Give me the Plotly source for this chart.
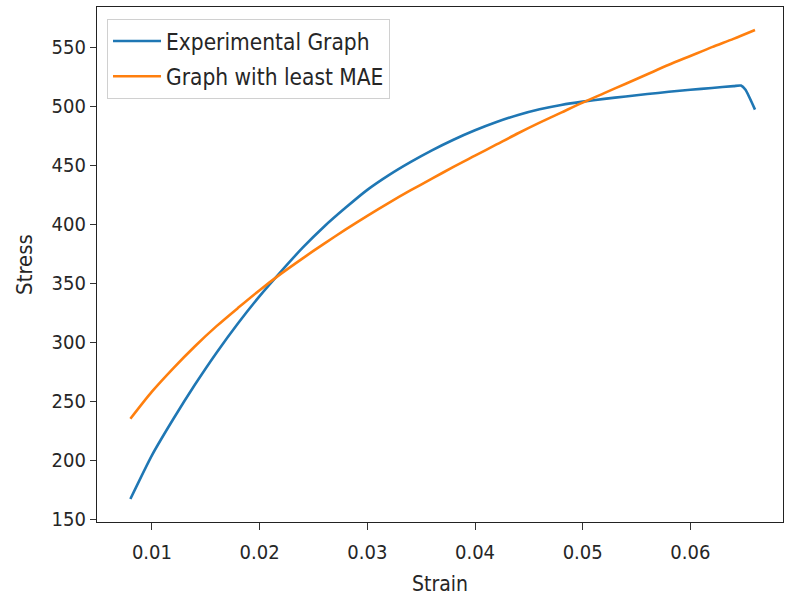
import plotly.graph_objects as go

# Experimental curve
strain_exp = [0.008, 0.010, 0.012, 0.014, 0.016, 0.018, 0.020, 0.022, 0.024, 0.026,
              0.028, 0.030, 0.032, 0.034, 0.036, 0.038, 0.040, 0.042, 0.044, 0.046,
              0.048, 0.050, 0.052, 0.054, 0.056, 0.058, 0.060, 0.062, 0.064, 0.0647,
              0.0651, 0.066]
stress_exp = [167, 204, 235, 264, 291, 316, 339, 360, 380, 398,
              414, 429, 441.5, 452.5, 462.5, 471.5, 479.5, 486.5, 492.5, 497.3,
              501, 503.8, 506.1, 508.2, 510.2, 512.1, 513.8, 515.4, 516.9, 517.4,
              514, 497]

# Fitted curve with least MAE
strain_fit = [0.008, 0.010, 0.012, 0.014, 0.016, 0.018, 0.020, 0.022, 0.024, 0.026,
              0.028, 0.030, 0.032, 0.034, 0.036, 0.038, 0.040, 0.042, 0.044, 0.046,
              0.048, 0.050, 0.052, 0.054, 0.056, 0.058, 0.060, 0.062, 0.064, 0.066]
stress_fit = [235, 258, 278, 296.5, 313.5, 329, 344, 358, 371, 383.5,
              395.5, 407, 418, 428.5, 438.5, 448.5, 458, 467.5, 477, 486,
              494.5, 503, 511, 519, 527, 535, 542.5, 550, 557, 564.5]

x_ticks = [0.01, 0.02, 0.03, 0.04, 0.05, 0.06]
x_tick_labels = ["0.01", "0.02", "0.03", "0.04", "0.05", "0.06"]
y_ticks = [150, 200, 250, 300, 350, 400, 450, 500, 550]
y_tick_labels = ["150", "200", "250", "300", "350", "400", "450", "500", "550"]

FONT = "DejaVu Sans Condensed, Liberation Sans Narrow, DejaVu Sans, sans-serif"

fig = go.Figure()
fig.add_trace(go.Scatter(x=strain_exp, y=stress_exp, mode="lines",
                         name="Experimental Graph", legendgroup="a",
                         line=dict(color="#1f77b4", width=2.6, shape="spline", smoothing=0.6)))
fig.add_trace(go.Scatter(x=strain_fit, y=stress_fit, mode="lines",
                         name="Graph with least MAE", legendgroup="b",
                         line=dict(color="#ff7f0e", width=2.6, shape="spline", smoothing=0.8)))

axis_common = dict(showgrid=False, zeroline=False, showline=True, mirror=True,
                   linecolor="#222222", linewidth=1.3, ticks="outside",
                   tickcolor="#333333", tickwidth=1.3,
                   tickfont=dict(family=FONT, size=20, color="#262626"))

fig.update_xaxes(range=[0.0049, 0.0686], tickvals=x_ticks, ticktext=x_tick_labels,
                 ticklen=7, ticklabelstandoff=5,
                 title=dict(text="Strain", standoff=13,
                            font=dict(family=FONT, size=21, color="#262626")),
                 **axis_common)
fig.update_yaxes(range=[147.5, 584], tickvals=y_ticks, ticktext=y_tick_labels,
                 ticklen=6,
                 title=dict(text="Stress", standoff=12,
                            font=dict(family=FONT, size=22, color="#262626")),
                 **axis_common)

fig.update_layout(
    width=786, height=596,
    margin=dict(l=97, r=3, t=7, b=74),
    paper_bgcolor="white", plot_bgcolor="white",
    showlegend=True,
    legend=dict(x=0.0146, y=0.977, xanchor="left", yanchor="top",
                bgcolor="rgba(255,255,255,0.8)", bordercolor="#d0d0d0", borderwidth=1,
                font=dict(family=FONT, size=22.5, color="#262626"),
                traceorder="grouped", tracegroupgap=3, itemwidth=48),
)

fig.write_html("out.html", config={"displayModeBar": False},
               post_script="document.body.style.margin='0';document.body.style.overflow='hidden';")
